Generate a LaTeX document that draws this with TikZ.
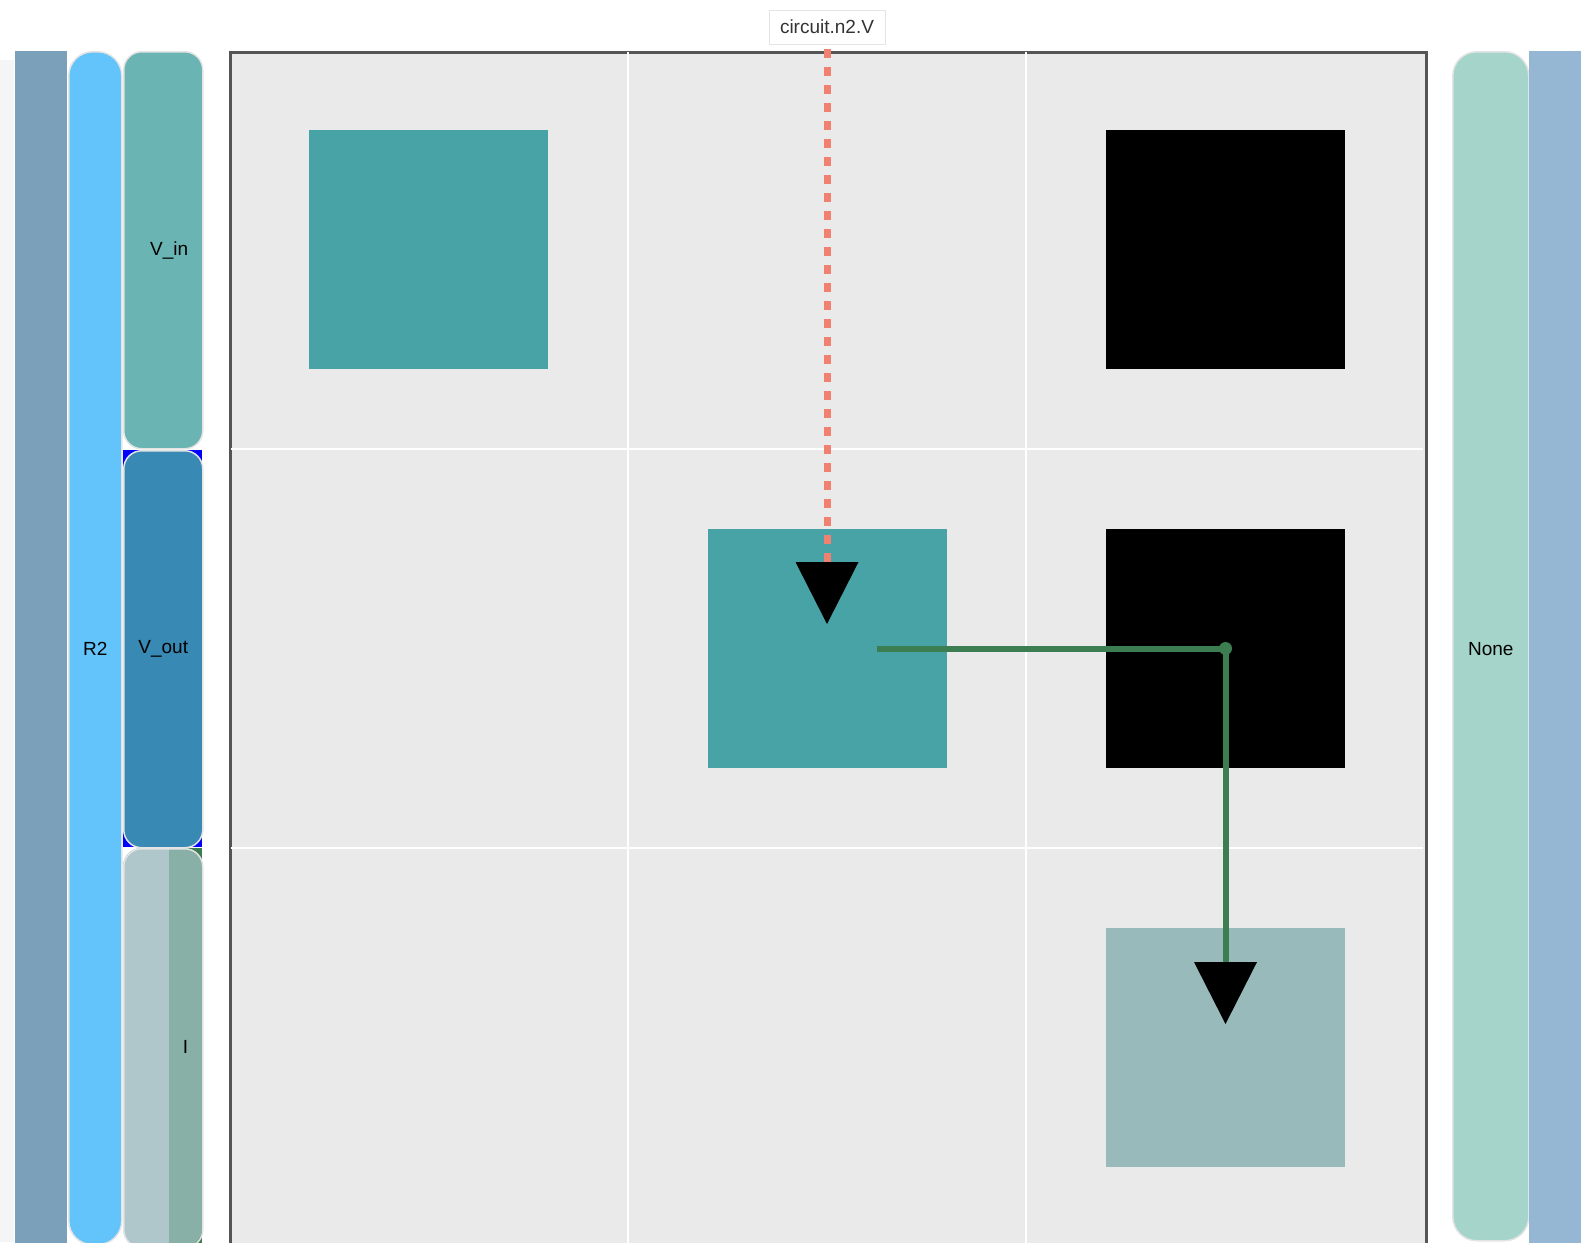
\documentclass[tikz,border=0pt]{standalone}
\usepackage{fontspec}
\setmainfont{Liberation Sans}
\definecolor{SideDark}{HTML}{7BA0BA}
\definecolor{SideBlue}{HTML}{62C4FA}
\definecolor{VinTeal}{HTML}{6AB5B3}
\definecolor{VoutBlue}{HTML}{3889B4}
\definecolor{ILight}{HTML}{AFC7CB}
\definecolor{IDark}{HTML}{88B0A7}
\definecolor{NoneMint}{HTML}{A5D4CB}
\definecolor{SideRight}{HTML}{96B7D4}
\definecolor{BarEdge}{HTML}{E4E4E4}
\definecolor{PlotBg}{HTML}{EAEAEA}
\definecolor{PlotEdge}{HTML}{555555}
\definecolor{SqTeal}{HTML}{47A3A5}
\definecolor{SqGray}{HTML}{99BABB}
\definecolor{ProbeSalmon}{HTML}{F08070}
\definecolor{WireGreen}{HTML}{3D7D52}
\definecolor{LabelText}{HTML}{333333}
\usetikzlibrary{arrows.meta,calc}

\begin{document}
\begin{tikzpicture}[
  x=1pt,y=-1pt,
  font=\fontsize{19}{22}\selectfont,
  bar/.style={draw=BarEdge,line width=1.5pt,rounded corners=18pt,anchor=north west,inner sep=0pt},
  flat/.style={anchor=north west,inner sep=0pt,outer sep=0pt},
  cellsq/.style={minimum size=239pt,inner sep=0pt,outer sep=0pt},
  plotframe/.style={draw=PlotEdge,line width=3pt,fill=PlotBg,anchor=north west,inner sep=0pt},
  gridline/.style={white,line width=2pt},
  probe/.style={draw=ProbeSalmon,line width=7pt,dash pattern=on 9pt off 9pt,dash phase=13pt,
    shorten >=24.5pt,-{Triangle[length=62pt,width=63pt,color=black,line width=0pt]}},
  wire/.style={draw=WireGreen,line width=6pt,
    shorten >=23pt,-{Triangle[length=62pt,width=63pt,color=black,line width=0pt]}},
  tag/.style={draw=BarEdge,fill=white,fill opacity=0.85,text opacity=1,text=LabelText,
    minimum width=116pt,minimum height=34pt,inner sep=0pt}
]
\path[use as bounding box,clip] (0,0) rectangle (1594,1242);

% side strips, left
\fill[black!4] (0,60) rectangle (14,1242);
\node[flat,fill=SideDark,minimum width=52pt,minimum height=1200pt] (sideL) at (15,51) {};
\node[bar,fill=SideBlue,rounded corners=24pt,minimum width=53pt,minimum height=1193pt] (barR2) at (68,51) {};
\node[bar,fill=VinTeal,minimum width=79pt,minimum height=397pt] (barVin) at (123,51) {};
\fill[blue] (123,450) rectangle (202,847);
\node[bar,fill=VoutBlue,minimum width=79pt,minimum height=397pt] (barVout) at (123,450) {};
\fill[WireGreen] (169,848) rectangle (202,1247);
\begin{scope}
  \clip[rounded corners=18pt] (123,848) rectangle (202,1247);
  \fill[ILight] (123,848) rectangle (169,1247);
  \fill[IDark] (169,848) rectangle (202,1247);
\end{scope}
\node[bar,minimum width=79pt,minimum height=399pt] (barI) at (123,848) {};

\node at (barR2.center |- barVout.center) {R2};
\node at ($(barVin.center)+(6,0)$) {V\_in};
\node at (barVout.center) {V\_out};
\node at (185.5,1047) {I};

% side strips, right
\node[bar,fill=NoneMint,rounded corners=24pt,minimum width=76pt,minimum height=1189pt] (barNone) at (1452,51) {};
\node[flat,fill=SideRight,minimum width=52pt,minimum height=1200pt] (sideR) at (1529,51) {};
\node at (barNone.center |- barVout.center) {None};

% plot area
\node[plotframe,minimum width=1195.5pt,minimum height=1195.5pt] (plot) at (229,50.5) {};
\foreach \gx in {627.75,1026.25} \draw[gridline] (\gx,52) -- (\gx,1244);
\foreach \gy in {449,847.5} \draw[gridline] (231,\gy) -- (1423,\gy);

\node[cellsq,fill=SqTeal] (s11) at (428.5,249.75) {};
\node[cellsq,fill=black] (s13) at (1225.5,249.75) {};
\node[cellsq,fill=SqTeal] (s22) at (827,648.5) {};
\node[cellsq,fill=black] (s23) at (1225.5,648.5) {};
\node[cellsq,fill=SqGray] (s33) at (1225.5,1047) {};

% connectors
\node[tag] (lbl) at (827,27) {circuit.n2.V};
\draw[probe] (lbl.south) -- (s22.center);
\coordinate (wstart) at (877,648.5);
\draw[wire] (wstart) -- (s23.center) -- (s33.center);
\fill[WireGreen] (s23.center) circle (6.5);
\end{tikzpicture}
\end{document}
